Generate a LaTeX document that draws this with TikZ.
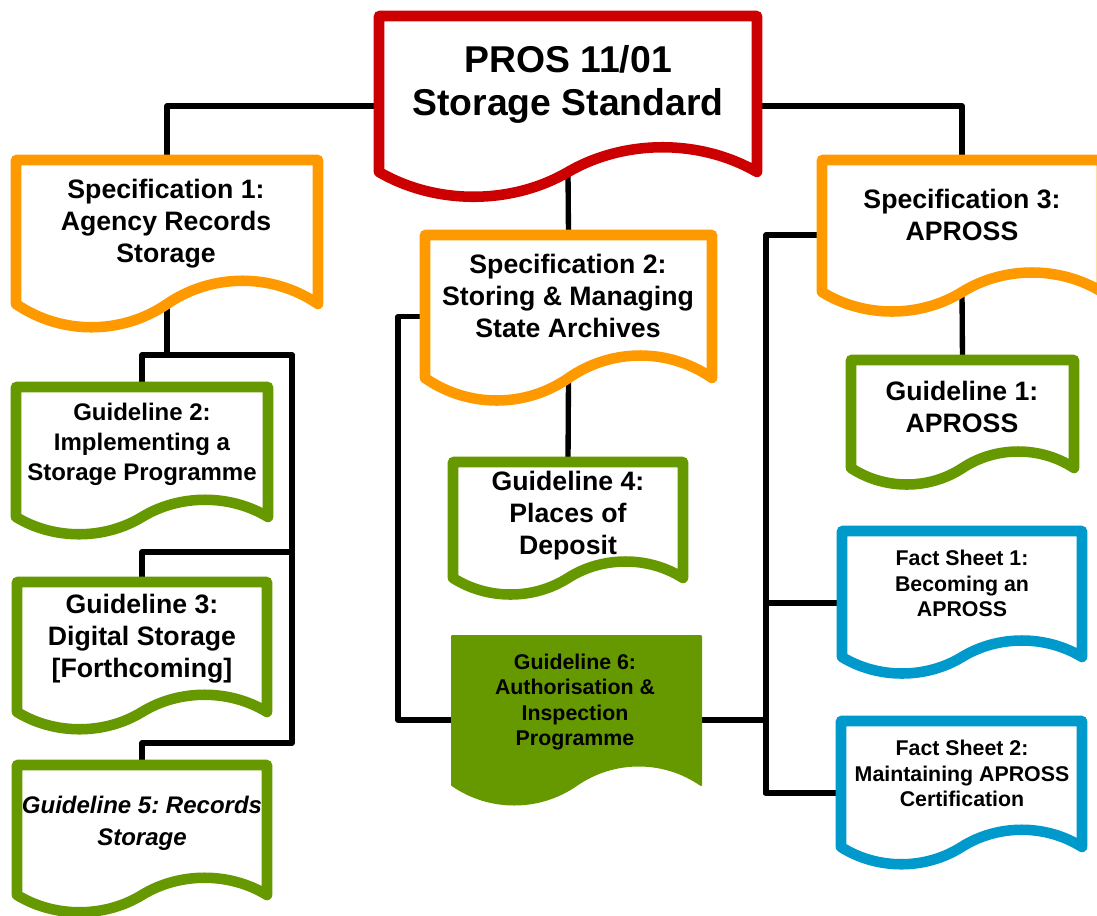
\documentclass[tikz,border=0pt]{standalone}
\usepackage{fontspec}
\setmainfont{Liberation Sans}
\usetikzlibrary{calc,fit}
\definecolor{pRed}{RGB}{204,0,0}
\definecolor{pOrange}{RGB}{255,153,0}
\definecolor{pGreen}{RGB}{102,153,0}
\definecolor{pBlue}{RGB}{0,153,204}

\tikzset{
  docframe/.style={inner sep=0pt, outer sep=0pt, draw=none},
  docline/.style={line width=7.9pt, line join=round, fill=white},
  redbox/.style={docline, draw=pRed},
  orangebox/.style={docline, draw=pOrange},
  greenbox/.style={docline, draw=pGreen},
  bluebox/.style={docline, draw=pBlue},
  solidgreen/.style={line width=1.5pt, line join=round, draw=pGreen, fill=pGreen},
  link/.style={line width=4pt, line cap=round, line join=round},
  boxtext/.style={align=center, inner sep=0.75pt},
  titletext/.style={boxtext, font=\fontsize{28}{32}\selectfont\bfseries},
  bigtext/.style={boxtext, font=\fontsize{20}{24}\selectfont\bfseries},
  midtext/.style={boxtext, font=\fontsize{18}{22.5}\selectfont\bfseries},
  smalltext/.style={boxtext, font=\fontsize{16}{19}\selectfont\bfseries}
}

% document outline: node, style, wave height
\newcommand{\docshape}[3]{%
  \draw[#2] (#1.north west) -- (#1.north east) -- (#1.south east)
    .. controls ($(#1.south east)!0.15!(#1.south west)+(0,-#3)$) and ($(#1.south east)!0.35!(#1.south west)+(0,-#3)$) .. (#1.south)
    .. controls ($(#1.south)!0.3!(#1.south west)+(0,#3)$) and ($(#1.south)!0.7!(#1.south west)+(0,#3)$) .. (#1.south west) -- cycle;}

\begin{document}
\begin{tikzpicture}[x=0.75pt,y=0.75pt,yscale=-1,xscale=1]
\useasboundingbox (0,0) rectangle (1097,915);
\clip (0,0) rectangle (1097,915);

%Frames of the documents
\node[docframe, fit={(379,16) (757,172)}] (root) {};
\node[docframe, fit={(16,160) (318,304)}] (spec1) {};
\node[docframe, fit={(425,235) (712,378)}] (spec2) {};
\node[docframe, fit={(822,160) (1102,292)}] (spec3) {};
\node[docframe, fit={(851,360) (1074,468)}] (guide1) {};
\node[docframe, fit={(16,387) (268,517)}] (guide2) {};
\node[docframe, fit={(17,582) (267,712)}] (guide3) {};
\node[docframe, fit={(453,462) (683,578)}] (guide4) {};
\node[docframe, fit={(17,765) (267,895)}] (guide5) {};
\node[docframe, fit={(452,636) (701,785)}] (guide6) {};
\node[docframe, fit={(842,531) (1082,657)}] (fact1) {};
\node[docframe, fit={(841,721) (1082,847)}] (fact2) {};
\coordinate (busLtop) at (292,355);
\coordinate (busLbot) at (292,743);
\coordinate (busRbot) at (766,793);

%Connectors
\draw[link] ([yshift=9pt]root.west) -| (spec1.north);
\draw[link] ([yshift=9pt]root.east) -| (spec3.north);
\draw[link] (root.south) -- (spec2.north);
\draw[link] (spec2.south) -- (guide4.north);
\draw[link] (spec3.south) -- (guide1.north);
\draw[link] (spec1.south) -- (spec1.south |- busLtop);
\draw[link] (guide2.north) |- (busLtop) -- (busLbot) -| (guide5.north);
\draw[link] (guide3.north) -- ++(0,-30) -| (busLtop);
\draw[link] ([yshift=7.5pt]spec2.west) -- ++(-27,0) |- ([yshift=7pt]guide6.west);
\draw[link] ([yshift=6.75pt]spec3.west) -| (busRbot) -- (busRbot -| fact2.west);
\draw[link] ([yshift=6.75pt]fact1.west) -| (busRbot);
\draw[link] ([yshift=7pt]guide6.east) -| (busRbot);

%Shape: Document
\docshape{root}{redbox}{33}
\docshape{spec1}{orangebox}{31}
\docshape{spec2}{orangebox}{30}
\docshape{spec3}{orangebox}{26}
\docshape{guide1}{greenbox}{22}
\docshape{guide2}{greenbox}{23}
\docshape{guide3}{greenbox}{23}
\docshape{guide4}{greenbox}{22}
\docshape{guide5}{greenbox}{23}
\docshape{guide6}{solidgreen}{26}
\docshape{fact1}{bluebox}{22}
\docshape{fact2}{bluebox}{23}

% Text Node
\node[titletext] (rootText) at (568,84.5) {PROS 11/01\\Storage Standard};
% Text Node
\node[bigtext] (spec1Text) at (166,224) {Specification 1:\\Agency Records\\Storage};
% Text Node
\node[bigtext] (spec2Text) at (568,295.5) {Specification 2:\\Storing \& Managing\\State Archives};
% Text Node
\node[bigtext] (spec3Text) at (962,214.5) {Specification 3:\\APROSS};
% Text Node
\node[bigtext] (guide1Text) at (962,406.5) {Guideline 1:\\APROSS};
% Text Node
\node[midtext] (guide2Text) at (142,444) {Guideline 2:\\Implementing a\\Storage Programme};
% Text Node
\node[bigtext] (guide3Text) at (142,639) {Guideline 3:\\Digital Storage\\{[}Forthcoming{]}};
% Text Node
\node[bigtext] (guide4Text) at (568,515.5) {Guideline 4:\\Places of\\Deposit};
% Text Node
\node[bigtext, font=\fontsize{18}{24}\selectfont\bfseries\itshape\frenchspacing] (guide5Text) at (142,823) {Guideline 5: Records\\Storage};
% Text Node
\node[smalltext] (guide6Text) at (575,702) {Guideline 6:\\Authorisation \&\\Inspection\\Programme};
% Text Node
\node[smalltext] (fact1Text) at (962,583.5) {Fact Sheet 1:\\Becoming an\\APROSS};
% Text Node
\node[smalltext] (fact2Text) at (962,773.5) {Fact Sheet 2:\\Maintaining APROSS\\Certification};

\end{tikzpicture}
\end{document}
